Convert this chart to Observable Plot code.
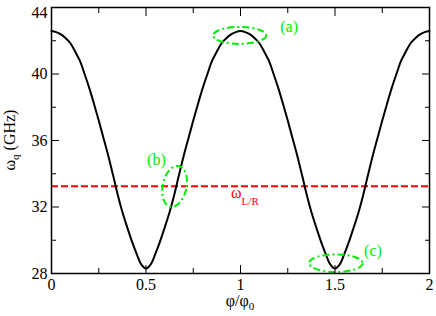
<!DOCTYPE html>
<html><head><meta charset="utf-8">
<script src="https://cdn.jsdelivr.net/npm/d3@7"></script>
<script src="https://cdn.jsdelivr.net/npm/@observablehq/plot@0.6"></script>
<style>body{margin:0;background:#fff} svg{display:block}</style>
</head><body><div id="chart"></div>
<script>
// flux (phi/phi0) and qubit frequency (GHz)
const phi = [0,0.025,0.05,0.075,0.1,0.125,0.15,0.175,0.2,0.225,0.25,0.275,0.3,0.325,0.35,0.375,0.4,0.425,0.45,0.475,
             0.5,0.525,0.55,0.575,0.6,0.625,0.65,0.675,0.7,0.725,0.75,0.775,0.8,0.825,0.85,0.875,0.9,0.925,0.95,0.975,
             1.0,1.025,1.05,1.075,1.1,1.125,1.15,1.175,1.2,1.225,1.25,1.275,1.3,1.325,1.35,1.375,1.4,1.425,1.45,1.475,
             1.5,1.525,1.55,1.575,1.6,1.625,1.65,1.675,1.7,1.725,1.75,1.775,1.8,1.825,1.85,1.875,1.9,1.925,1.95,1.975,2.0];
const omega = [42.58,42.52,42.38,42.15,41.85,41.35,40.8,40.0,39.15,38.2,37.2,36.15,35.1,33.95,32.75,31.7,30.8,29.95,29.2,28.55,
               28.3,28.55,29.2,29.95,30.8,31.7,32.75,33.95,35.1,36.15,37.2,38.2,39.15,40.0,40.8,41.35,41.85,42.15,42.38,42.52,
               42.58,42.52,42.38,42.15,41.85,41.35,40.8,40.0,39.15,38.2,37.2,36.15,35.1,33.95,32.75,31.7,30.8,29.95,29.2,28.55,
               28.3,28.55,29.2,29.95,30.8,31.7,32.75,33.95,35.1,36.15,37.2,38.2,39.15,40.0,40.8,41.35,41.85,42.15,42.38,42.52,42.58];
const omegaLR = 33.25;
const omegaLRLabel = ["ω", "L/R"];
const omegaLRLabelPhi = 1.026;

const xTicks = [0,0.5,1,1.5,2];
const xTickLabels = ["0","0.5","1","1.5","2"];
const xMinor = [0.25,0.75,1.25,1.75];
const yTicks = [28,32,36,40];
const yTickLabels = ["28","32","36","40"];
const yTop = [44];
const yTopLabel = ["44"];
const yMinor = [30,34,38,42];

// marked regions (a), (b), (c)
const markers = ["(a)","(b)","(c)"];
const markerPhi = [0.998, 0.654, 1.507];
const markerOmega = [42.29, 33.21, 28.59];
const markerRx = [0.14, 0.063, 0.141];
const markerRy = [0.51, 1.25, 0.53];
const markerTilt = [0, 12, 0];
const labelPhi = [1.257, 0.555, 1.701];
const labelOmega = [42.86, 34.82, 29.36];

const green = "#00ee00";
const font = "'Liberation Serif', 'Liberation Sans', Arial, sans-serif";

const data = phi.map((p, i) => ({phi: p, omega: omega[i]}));

function ellipses(index, scales) {
  const g = d3.create("svg:g").attr("fill", "none").attr("stroke", green)
    .attr("stroke-width", 2).attr("stroke-dasharray", "7,3,2,3");
  markers.forEach((m, i) => {
    const cx = scales.x(markerPhi[i]), cy = scales.y(markerOmega[i]);
    const rx = Math.abs(scales.x(markerPhi[i] + markerRx[i]) - cx);
    const ry = Math.abs(scales.y(markerOmega[i] + markerRy[i]) - cy);
    g.append("ellipse").attr("cx", cx).attr("cy", cy).attr("rx", rx).attr("ry", ry)
      .attr("transform", `rotate(${markerTilt[i]},${cx},${cy})`);
  });
  return g.node();
}

function lrLabel(index, scales) {
  const t = d3.create("svg:text").attr("fill", "#ff0000").attr("font-family", font)
    .attr("font-size", 16)
    .attr("x", scales.x(omegaLRLabelPhi)).attr("y", scales.y(omegaLR) + 12.5);
  t.append("tspan").text(omegaLRLabel[0]);
  t.append("tspan").attr("font-size", 11).attr("dy", 7).text(omegaLRLabel[1]);
  return t.node();
}

function axisLabels(index, scales, values, dims) {
  const g = d3.create("svg:g").attr("font-family", font).attr("fill", "black");
  const cx = (dims.marginLeft + dims.width - dims.marginRight) / 2;
  const cy = (dims.marginTop + dims.height - dims.marginBottom) / 2;
  const xl = g.append("text").attr("x", cx).attr("y", dims.height - 10)
    .attr("text-anchor", "middle").attr("font-size", 16);
  xl.append("tspan").text("φ/φ");
  xl.append("tspan").attr("font-size", 11).attr("dy", 4).text("0");
  const yl = g.append("text").attr("transform", `translate(15,${cy}) rotate(-90)`)
    .attr("text-anchor", "middle").attr("font-size", 16);
  yl.append("tspan").text("ω");
  yl.append("tspan").attr("font-size", 11).attr("dy", 4).text("q");
  yl.append("tspan").attr("dy", -4).text(" (GHz)");
  return g.node();
}

const plot = Plot.plot({
  width: 436, height: 316,
  marginLeft: 51, marginRight: 7, marginTop: 7, marginBottom: 43,
  style: {fontFamily: font, fontSize: "16px", background: "white", color: "black"},
  x: {domain: [0, 2]},
  y: {domain: [28, 44]},
  marks: [
    Plot.ruleY([omegaLR], {stroke: "#ff0000", strokeWidth: 2, strokeDasharray: "7,3"}),
    Plot.line(data, {x: "phi", y: "omega", curve: "catmull-rom", stroke: "black", strokeWidth: 2}),
    ellipses,
    Plot.text(markers, {x: (d, i) => labelPhi[i], y: (d, i) => labelOmega[i], text: d => d,
      fill: green, fontSize: 16, fontFamily: font}),
    lrLabel,
    // major / minor ticks, inward on all four sides
    Plot.axisX({ticks: xTicks, tickSize: -8, text: null, anchor: "bottom", label: null}),
    Plot.axisX({ticks: xMinor, tickSize: -5, text: null, anchor: "bottom", label: null}),
    Plot.axisX({ticks: xTicks, tickSize: -8, text: null, anchor: "top", label: null}),
    Plot.axisX({ticks: xMinor, tickSize: -5, text: null, anchor: "top", label: null}),
    Plot.axisY({ticks: [...yTicks, ...yTop], tickSize: -8, text: null, anchor: "left", label: null}),
    Plot.axisY({ticks: yMinor, tickSize: -5, text: null, anchor: "left", label: null}),
    Plot.axisY({ticks: [...yTicks, ...yTop], tickSize: -8, text: null, anchor: "right", label: null}),
    Plot.axisY({ticks: yMinor, tickSize: -5, text: null, anchor: "right", label: null}),
    // tick labels
    Plot.axisX({ticks: xTicks, tickFormat: (d, i) => xTickLabels[i], tickSize: 0, tickPadding: 5, anchor: "bottom", label: null}),
    Plot.axisY({ticks: yTicks, tickFormat: (d, i) => yTickLabels[i], tickSize: 0, tickPadding: 4, anchor: "left", label: null}),
    Plot.axisY({ticks: yTop, tickFormat: (d, i) => yTopLabel[i], tickSize: 0, tickPadding: 4, dy: 5, anchor: "left", label: null}),
    Plot.frame({stroke: "black", strokeWidth: 1.5}),
    axisLabels
  ]
});
document.getElementById("chart").appendChild(plot);
</script>
</body></html>
